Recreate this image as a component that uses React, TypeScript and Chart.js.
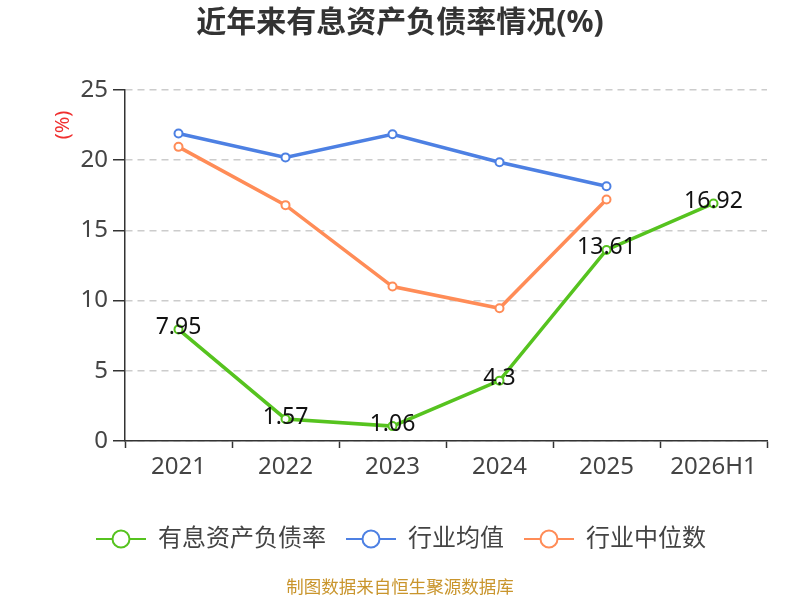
import { useEffect, useRef } from "react";
import { Chart, registerables } from "chart.js";

Chart.register(...registerables);

const years = ["2021", "2022", "2023", "2024", "2025", "2026H1"];
const debtRatio = [7.95, 1.57, 1.06, 4.3, 13.61, 16.92];
const industryAvg = [21.9, 20.2, 21.85, 19.85, 18.15, null];
const industryMedian = [20.95, 16.8, 11.0, 9.45, 17.2, null];
const yTicks = [0, 5, 10, 15, 20, 25];

const GREEN = "#56c31f";
const BLUE = "#4d80e3";
const ORANGE = "#ff8c57";
const FONT = '"Noto Sans", "Noto Sans CJK SC", sans-serif';

function legendIcon(color: string) {
  const c = document.createElement("canvas");
  c.width = 50;
  c.height = 22;
  const ctx = c.getContext("2d")!;
  ctx.strokeStyle = color;
  ctx.lineWidth = 2;
  ctx.beginPath();
  ctx.moveTo(0, 11);
  ctx.lineTo(50, 11);
  ctx.stroke();
  ctx.beginPath();
  ctx.arc(25, 11, 8.5, 0, Math.PI * 2);
  ctx.fillStyle = "#fff";
  ctx.fill();
  ctx.stroke();
  return c;
}

const extras = {
  id: "extras",
  afterDatasetsDraw(chart: any) {
    const ctx = chart.ctx;
    const meta = chart.getDatasetMeta(0);
    ctx.save();
    ctx.font = `23px ${FONT}`;
    ctx.fillStyle = "#111";
    ctx.textAlign = "center";
    ctx.textBaseline = "middle";
    meta.data.forEach((pt: any, i: number) => {
      ctx.fillText(String(debtRatio[i]), pt.x, pt.y - 2);
    });
    ctx.restore();
  },
  afterDraw(chart: any) {
    const ctx = chart.ctx;
    ctx.save();
    ctx.textAlign = "center";
    ctx.textBaseline = "middle";
    ctx.font = `bold 30px ${FONT}`;
    ctx.fillStyle = "#333";
    ctx.fillText("近年来有息资产负债率情况(%)", 400, 23);

    ctx.font = `17.5px ${FONT}`;
    ctx.fillStyle = "#c9952c";
    ctx.fillText("制图数据来自恒生聚源数据库", 400, 588);

    ctx.translate(63, 125);
    ctx.rotate(-Math.PI / 2);
    ctx.font = `20px ${FONT}`;
    ctx.fillStyle = "#f03030";
    ctx.fillText("(%)", 0, 0);
    ctx.restore();
  },
};

export default function App() {
  const ref = useRef<HTMLCanvasElement>(null);

  useEffect(() => {
    if (!ref.current) return;
    const icons = [legendIcon(GREEN), legendIcon(BLUE), legendIcon(ORANGE)];
    const chart = new Chart(ref.current, {
      type: "line",
      data: {
        labels: years,
        datasets: [
          { label: "有息资产负债率", data: debtRatio, borderColor: GREEN },
          { label: "行业均值", data: industryAvg, borderColor: BLUE },
          { label: "行业中位数", data: industryMedian, borderColor: ORANGE },
        ].map((d) => ({
          ...d,
          borderWidth: 3.5,
          pointRadius: 4,
          pointBorderWidth: 2,
          pointBackgroundColor: "#fff",
          pointBorderColor: d.borderColor,
          tension: 0,
        })),
      },
      options: {
        animation: false,
        responsive: false,
        layout: { padding: { top: 90, right: 33, left: 35, bottom: 39 } },
        plugins: {
          title: { display: false },
          tooltip: { enabled: false },
          legend: {
            position: "bottom",
            labels: {
              usePointStyle: true,
              pointStyleWidth: 50,
              padding: 20,
              color: "#444",
              font: { size: 24, family: FONT },
              generateLabels: (chart: any) =>
                chart.data.datasets.map((ds: any, i: number) => ({
                  text: ds.label,
                  pointStyle: icons[i],
                  fillStyle: "#fff",
                  strokeStyle: ds.borderColor,
                  lineWidth: 0,
                  fontColor: "#444",
                  datasetIndex: i,
                })),
            },
          },
        },
        scales: {
          x: {
            offset: true,
            afterFit: (s: any) => {
              s.height = 66;
            },
            grid: {
              offset: true,
              drawOnChartArea: false,
              tickLength: 7,
              tickColor: "#333",
              tickWidth: 1.5,
            },
            border: { color: "#333", width: 1.5 },
            ticks: {
              color: "#444",
              padding: 5,
              font: { size: 24, family: FONT },
            },
          },
          y: {
            min: 0,
            max: 25,
            afterFit: (s: any) => {
              s.width = 90;
            },
            afterBuildTicks: (s: any) => {
              s.ticks = yTicks.map((v) => ({ value: v }));
            },
            grid: {
              color: "#cccccc",
              lineWidth: 1.5,
              tickLength: 12,
              tickColor: "#333",
              tickWidth: 1.5,
            },
            border: { color: "#333", width: 1.5, dash: [7, 5] },
            ticks: {
              color: "#444",
              padding: 5,
              font: { size: 24, family: FONT },
            },
          },
        },
      },
      plugins: [extras],
    });
    return () => chart.destroy();
  }, []);

  return (
    <div style={{ position: "absolute", left: 0, top: 0, width: 800, height: 600, background: "#fff" }}>
      <canvas ref={ref} width={800} height={600} />
    </div>
  );
}
